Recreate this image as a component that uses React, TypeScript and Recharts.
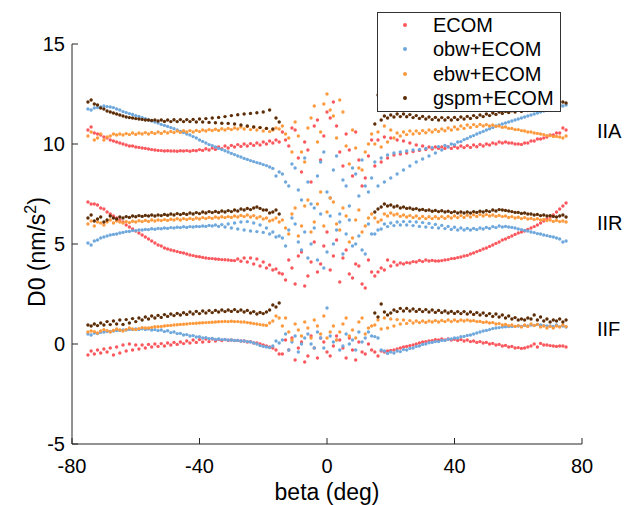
import React from 'react';
import { ScatterChart, Scatter, XAxis, YAxis, ReferenceDot } from 'recharts';

// beta grid of track A: left wing, right wing, middle
const betaA = [-75,-73,-71,-69,-67,-65,-63,-61,-59,-57,-55,-53,-51,-49,-47,-45,-43,-41,-39,-37,-35,-33,-31,-29,-27,-25,-23,-21,-19,-17,-15,
  15,17,19,21,23,25,27,29,31,33,35,37,39,41,43,45,47,49,51,53,55,57,59,61,63,65,67,69,71,73,75,
  -14,-12,-10,-8,-6,-4,-2,0,2,4,6,8,10,12,14];
// beta grid of track B
const betaB = [-74,-72,-70,-68,-66,-64,-62,-60,-58,-56,-54,-52,-50,-48,-46,-44,-42,-40,-38,-36,-34,-32,-30,-28,-26,-24,-22,-20,-18,-16,
  16,18,20,22,24,26,28,30,32,34,36,38,40,42,44,46,48,50,52,54,56,58,60,62,64,66,68,70,72,74,
  -13,-11,-9,-7,-5,-3,-1,1,3,5,7,9,11,13];

// ---------- IIA ----------
const ecomIIA_A = [10.7,10.55,10.45,10.3,10.15,10.05,9.95,9.9,9.83,9.78,9.72,9.68,9.65,9.65,9.64,9.65,9.64,9.66,9.68,9.7,9.73,9.77,9.8,9.85,9.88,9.9,9.93,9.95,10.0,10.05,10.1,
  8.9,9.1,9.3,9.45,9.5,9.55,9.62,9.68,9.72,9.75,9.78,9.78,9.78,9.8,9.82,9.83,9.86,9.9,9.95,10.0,10.05,10.05,10.0,9.98,10.05,10.15,10.25,10.35,10.45,10.55,10.7,
  10.6,9.9,10.7,8.6,9.7,10.9,9.2,11.6,12.1,9.6,10.5,8.4,9.2,8.3,10.2];
const ecomIIA_B = [10.85,10.5,10.35,10.2,10.1,10.0,9.9,9.85,9.8,9.75,9.7,9.67,9.66,9.65,9.66,9.67,9.68,9.72,9.76,9.8,9.85,9.9,9.93,9.97,10.0,10.02,10.05,10.1,10.15,10.2,
  10.2,10.35,10.3,10.2,10.15,10.05,9.95,9.9,9.85,9.85,9.85,9.87,9.88,9.9,9.92,9.95,9.98,10.0,10.05,10.1,10.1,10.05,10.0,10.05,10.15,10.25,10.3,10.45,10.55,10.8,
  10.2,10.8,9.3,10.1,8.1,11.2,10.4,11.3,10.9,8.9,9.7,10.6,7.9,9.4];
const obwIIA_A = [11.75,11.8,11.85,11.87,11.82,11.7,11.57,11.48,11.38,11.27,11.15,11.05,10.93,10.82,10.7,10.57,10.45,10.3,10.13,9.97,9.85,9.72,9.6,9.47,9.35,9.23,9.12,9.03,8.92,8.78,8.6,
  9.1,9.3,9.45,9.55,9.6,9.65,9.7,9.73,9.78,9.82,9.87,9.93,10.0,10.1,10.22,10.36,10.5,10.63,10.76,10.9,11.0,11.1,11.2,11.3,11.4,11.5,11.6,11.7,11.78,11.86,11.95,
  8.5,7.9,8.8,7.2,8.1,6.8,9.1,7.6,8.7,6.5,7.9,8.8,7.4,7.9,8.3];
const obwIIA_B = [11.7,11.82,11.9,11.85,11.75,11.62,11.52,11.42,11.32,11.2,11.1,10.98,10.88,10.76,10.63,10.5,10.37,10.2,10.05,9.92,9.78,9.66,9.53,9.4,9.28,9.17,9.07,8.97,8.85,8.4,
  7.9,8.1,8.3,8.5,8.7,8.9,9.1,9.25,9.4,9.55,9.7,9.85,9.97,10.12,10.28,10.42,10.56,10.7,10.82,10.95,11.05,11.15,11.25,11.35,11.45,11.55,11.65,11.73,11.82,11.9,
  8.1,9.0,7.7,9.3,7.0,8.4,9.6,7.3,9.4,8.2,6.9,8.5,9.2,7.6];
const ebwIIA_A = [10.4,10.2,10.5,10.35,10.5,10.5,10.52,10.55,10.55,10.57,10.58,10.6,10.62,10.63,10.65,10.66,10.67,10.68,10.7,10.72,10.74,10.76,10.78,10.8,10.85,10.87,10.85,10.83,10.78,10.7,10.75,
  10.0,9.85,10.1,10.3,10.4,10.47,10.5,10.53,10.56,10.6,10.63,10.66,10.7,10.74,10.78,10.83,10.87,10.9,10.9,10.88,10.83,10.78,10.72,10.67,10.6,10.55,10.5,10.42,10.37,10.35,10.4,
  10.9,10.3,11.1,9.6,10.8,11.9,10.6,12.5,11.4,12.2,9.9,10.7,8.8,9.6,10.5];
const ebwIIA_B = [10.6,10.3,10.2,10.4,10.45,10.45,10.47,10.48,10.5,10.5,10.52,10.53,10.55,10.57,10.58,10.6,10.6,10.62,10.65,10.67,10.68,10.7,10.72,10.75,10.75,10.72,10.7,10.65,10.62,10.8,
  10.6,10.9,10.7,10.55,10.6,10.65,10.65,10.67,10.7,10.72,10.75,10.8,10.85,10.9,10.95,10.97,10.98,10.97,10.95,10.9,10.85,10.78,10.72,10.65,10.6,10.53,10.47,10.42,10.38,10.3,
  10.5,9.6,10.4,9.1,11.3,10.1,12.0,11.7,10.3,11.6,9.0,9.8,8.7,10.0];
const gspmIIA_A = [12.1,12.0,11.8,11.65,11.55,11.45,11.35,11.3,11.25,11.2,11.18,11.15,11.13,11.12,11.12,11.12,11.12,11.1,11.1,11.08,11.06,11.04,11.03,11.0,10.95,10.9,10.85,10.82,10.78,10.75,11.1,
  11.0,11.2,11.3,11.35,11.37,11.36,11.32,11.28,11.25,11.22,11.2,11.2,11.2,11.22,11.25,11.28,11.32,11.37,11.42,11.48,11.53,11.57,11.6,11.63,11.67,11.72,11.77,11.82,11.87,11.95,12.05];
const gspmIIA_B = [12.2,11.95,11.75,11.6,11.5,11.4,11.32,11.27,11.23,11.2,11.2,11.2,11.2,11.21,11.22,11.22,11.23,11.25,11.27,11.3,11.33,11.37,11.42,11.46,11.5,11.53,11.56,11.6,11.7,11.3,
  12.45,11.4,11.45,11.5,11.5,11.47,11.42,11.38,11.35,11.33,11.32,11.32,11.33,11.35,11.38,11.42,11.45,11.5,11.55,11.6,11.63,11.66,11.7,11.73,11.77,11.8,11.85,11.9,11.97,12.1];

// ---------- IIR ----------
const ecomIIR_A = [7.1,7.0,6.8,6.6,6.4,6.2,5.95,5.75,5.55,5.35,5.15,4.95,4.8,4.7,4.62,4.55,4.45,4.38,4.33,4.28,4.25,4.22,4.2,4.17,4.14,4.1,4.0,3.9,3.8,3.7,3.55,
  3.4,3.8,4.2,4.1,4.05,4.07,4.12,4.18,4.2,4.18,4.15,4.2,4.27,4.32,4.4,4.5,4.62,4.75,4.88,5.03,5.2,5.33,5.48,5.6,5.73,5.87,6.05,6.25,6.45,6.75,7.05,
  3.5,4.2,3.0,4.6,3.4,5.1,4.0,5.6,4.4,3.1,4.7,3.3,3.9,2.8,3.6];
const ecomIIR_B = [7.0,6.95,6.75,6.5,6.3,6.1,5.85,5.65,5.45,5.25,5.05,4.9,4.75,4.66,4.58,4.5,4.42,4.36,4.3,4.27,4.24,4.21,4.18,4.25,4.3,4.3,4.25,4.1,3.95,3.75,
  3.6,3.7,3.9,3.95,4.0,4.05,4.1,4.12,4.15,4.15,4.17,4.22,4.28,4.35,4.43,4.55,4.68,4.8,4.95,5.1,5.25,5.4,5.55,5.65,5.8,5.95,6.15,6.35,6.6,6.9,
  3.2,3.8,4.4,2.9,4.1,3.6,4.9,3.7,5.2,4.3,3.5,4.0,3.0,4.2];
const obwIIR_A = [5.05,5.15,5.3,5.4,5.48,5.55,5.62,5.67,5.7,5.73,5.76,5.78,5.8,5.82,5.84,5.86,5.87,5.88,5.9,5.93,5.95,5.97,6.0,6.05,6.1,6.12,6.05,5.95,5.8,5.6,5.4,
  5.5,5.75,5.87,5.92,5.95,5.95,5.92,5.88,5.85,5.82,5.8,5.77,5.73,5.7,5.7,5.7,5.72,5.75,5.78,5.82,5.85,5.85,5.8,5.72,5.65,5.57,5.5,5.42,5.35,5.25,5.15,
  5.3,5.7,6.0,4.7,4.3,5.8,6.5,4.6,5.0,6.1,5.5,4.9,5.4,4.5,5.5];
const obwIIR_B = [4.95,5.2,5.35,5.45,5.5,5.58,5.63,5.67,5.7,5.72,5.74,5.76,5.78,5.8,5.82,5.83,5.85,5.87,5.88,5.9,5.88,5.85,5.8,5.75,5.7,5.65,5.62,5.58,5.5,5.35,
  5.7,6.0,6.05,6.1,6.12,6.12,6.1,6.07,6.03,5.98,5.93,5.88,5.84,5.8,5.78,5.78,5.8,5.83,5.87,5.9,5.88,5.83,5.75,5.68,5.6,5.52,5.45,5.38,5.3,5.1,
  4.9,6.3,5.1,5.6,5.0,4.2,3.8,6.4,5.7,4.5,6.2,5.0,4.7,6.0];
const ebwIIR_A = [6.0,5.9,6.05,6.1,6.05,6.1,6.12,6.14,6.16,6.18,6.2,6.2,6.22,6.24,6.26,6.27,6.28,6.3,6.32,6.33,6.35,6.36,6.37,6.4,6.43,6.45,6.42,6.37,6.3,6.2,6.1,
  6.3,6.2,6.4,6.45,6.38,6.35,6.32,6.28,6.27,6.27,6.28,6.28,6.3,6.32,6.33,6.35,6.38,6.4,6.4,6.38,6.37,6.33,6.3,6.27,6.25,6.22,6.2,6.17,6.13,6.12,6.1,
  6.2,5.5,6.8,5.9,7.2,6.1,7.6,6.6,7.1,5.7,6.4,5.3,6.7,5.9,6.5];
const ebwIIR_B = [6.15,6.1,5.95,6.2,6.15,6.05,6.07,6.1,6.12,6.13,6.15,6.17,6.18,6.2,6.2,6.22,6.23,6.25,6.27,6.28,6.3,6.32,6.33,6.35,6.37,6.35,6.3,6.25,6.15,6.3,
  6.1,6.5,6.55,6.5,6.45,6.42,6.4,6.38,6.36,6.36,6.37,6.38,6.4,6.42,6.44,6.46,6.47,6.47,6.45,6.43,6.4,6.37,6.34,6.32,6.28,6.26,6.23,6.2,6.18,6.15,
  5.8,6.5,5.4,6.9,5.6,7.0,5.9,7.3,6.0,6.8,5.1,6.2,5.6,6.3];
const gspmIIR_A = [6.3,6.15,6.35,6.2,6.3,6.35,6.37,6.4,6.42,6.43,6.45,6.45,6.48,6.5,6.52,6.53,6.55,6.57,6.6,6.62,6.63,6.65,6.67,6.7,6.75,6.78,6.8,6.78,6.7,6.6,6.5,
  6.6,6.85,6.9,6.85,6.8,6.78,6.74,6.7,6.67,6.64,6.62,6.6,6.57,6.55,6.55,6.55,6.58,6.6,6.62,6.65,6.7,6.65,6.58,6.53,6.5,6.45,6.42,6.4,6.38,6.4,6.35];
const gspmIIR_B = [6.45,6.25,6.1,6.4,6.25,6.3,6.33,6.36,6.38,6.4,6.4,6.42,6.44,6.45,6.47,6.48,6.5,6.52,6.55,6.57,6.58,6.6,6.62,6.65,6.7,6.72,6.85,6.7,6.55,6.7,
  6.75,7.0,6.95,6.9,6.85,6.8,6.77,6.73,6.7,6.68,6.66,6.64,6.62,6.6,6.6,6.62,6.64,6.66,6.7,6.72,6.68,6.62,6.58,6.55,6.5,6.48,6.45,6.42,6.35,6.45];

// ---------- IIF ----------
const ecomIIF_A = [-0.55,-0.5,-0.45,-0.4,-0.55,-0.45,-0.35,-0.3,-0.25,-0.2,-0.15,-0.12,-0.1,-0.05,-0.02,0.02,0.05,0.08,0.1,0.12,0.15,0.17,0.18,0.17,0.15,0.1,0.05,0.0,-0.1,-0.2,-0.5,
  -0.4,-0.35,-0.35,-0.3,-0.2,-0.12,-0.05,0.05,0.12,0.17,0.2,0.2,0.2,0.18,0.15,0.12,0.08,0.05,0.0,-0.05,-0.1,-0.15,-0.2,-0.22,-0.15,0.0,0.03,-0.05,-0.1,-0.1,-0.15,
  -0.5,-0.3,-0.8,0.1,-0.6,-0.2,0.3,-0.4,-0.1,0.2,-0.7,-0.3,0.1,-0.5,-0.3];
const ecomIIF_B = [-0.35,-0.3,-0.25,-0.2,-0.15,-0.05,0.0,-0.05,-0.05,-0.02,0.0,0.02,0.05,0.08,0.1,0.15,0.2,0.22,0.25,0.25,0.23,0.22,0.2,0.18,0.15,0.12,0.05,-0.05,-0.15,-0.3,
  -0.6,-0.4,-0.32,-0.25,-0.15,-0.08,0.0,0.1,0.15,0.22,0.25,0.25,0.24,0.22,0.2,0.15,0.12,0.08,0.03,-0.02,-0.07,-0.12,-0.18,-0.2,-0.1,-0.15,-0.05,-0.08,-0.12,-0.1,
  0.2,0.3,-0.2,-0.9,0.4,-0.7,0.1,-0.6,0.4,-0.2,0.3,-0.8,-0.4,0.0];
const obwIIF_A = [0.5,0.55,0.58,0.62,0.65,0.68,0.7,0.72,0.72,0.72,0.7,0.67,0.62,0.57,0.52,0.45,0.4,0.35,0.3,0.27,0.23,0.22,0.2,0.18,0.15,0.12,0.05,-0.08,-0.15,-0.1,0.05,
  0.37,-0.3,-0.47,-0.45,-0.38,-0.3,-0.2,-0.1,0.0,0.08,0.12,0.18,0.25,0.3,0.38,0.45,0.55,0.65,0.72,0.8,0.85,0.87,0.88,0.88,0.9,0.93,0.95,0.9,0.88,0.87,0.85,
  0.2,-0.3,0.4,0.0,0.5,-0.2,0.3,1.8,0.1,-0.3,0.5,0.2,0.6,0.3,0.4];
const obwIIF_B = [0.45,0.52,0.6,0.63,0.67,0.7,0.73,0.75,0.76,0.75,0.72,0.7,0.66,0.6,0.53,0.47,0.42,0.36,0.32,0.28,0.25,0.23,0.2,0.18,0.15,0.1,0.0,-0.12,-0.18,0.15,
  0.3,-0.35,-0.4,-0.35,-0.28,-0.22,-0.12,-0.02,0.06,0.12,0.18,0.24,0.3,0.36,0.43,0.5,0.6,0.68,0.77,0.82,0.86,0.88,0.9,0.92,0.95,0.98,0.92,0.9,0.95,0.9,
  0.5,0.1,-0.4,0.3,0.0,0.6,-0.2,0.4,0.2,-0.1,0.0,-0.3,0.1,0.6];
const ebwIIF_A = [0.6,0.62,0.65,0.67,0.68,0.7,0.72,0.75,0.77,0.8,0.83,0.86,0.9,0.93,0.96,0.99,1.02,1.04,1.06,1.08,1.1,1.12,1.12,1.12,1.1,1.07,1.02,0.97,0.93,1.15,1.3,
  0.95,0.75,0.8,0.9,1.0,1.03,1.05,1.07,1.08,1.1,1.1,1.12,1.12,1.13,1.15,1.15,1.12,1.08,1.05,1.0,0.95,0.92,0.88,0.85,0.88,0.92,0.85,0.8,0.8,0.85,0.87,
  0.9,0.6,1.0,0.4,0.8,1.2,0.5,0.3,0.9,0.6,1.3,0.7,1.1,0.5,0.9];
const ebwIIF_B = [0.65,0.55,0.72,0.6,0.75,0.65,0.8,0.72,0.82,0.8,0.86,0.88,0.92,0.95,0.98,1.0,1.03,1.05,1.07,1.09,1.11,1.13,1.14,1.12,1.1,1.05,1.0,0.95,1.05,1.4,
  1.2,1.3,1.25,1.22,1.2,1.17,1.15,1.15,1.15,1.17,1.18,1.2,1.2,1.2,1.2,1.17,1.13,1.1,1.07,1.02,0.98,0.95,0.92,0.95,1.0,0.98,0.9,0.88,0.9,0.95,
  1.3,0.2,0.7,1.1,0.3,0.9,1.4,0.6,0.2,1.0,0.4,0.3,1.3,0.8];
const gspmIIF_A = [0.95,1.0,1.05,1.12,1.15,1.2,1.22,1.27,1.3,1.35,1.4,1.43,1.47,1.5,1.53,1.56,1.6,1.63,1.65,1.67,1.68,1.7,1.7,1.72,1.7,1.68,1.62,1.58,1.6,1.95,2.05,
  1.55,2.0,1.45,1.7,1.78,1.78,1.75,1.73,1.72,1.7,1.68,1.65,1.63,1.62,1.62,1.6,1.57,1.55,1.52,1.5,1.45,1.4,1.32,1.25,1.3,1.45,1.35,1.25,1.2,1.25,1.2];
const gspmIIF_B = [0.9,0.92,0.95,0.97,1.0,0.98,1.05,1.12,1.2,1.25,1.3,1.33,1.38,1.42,1.45,1.48,1.5,1.52,1.55,1.57,1.6,1.62,1.63,1.62,1.6,1.55,1.5,1.52,1.7,1.85,
  1.35,1.6,1.55,1.62,1.65,1.65,1.63,1.62,1.6,1.58,1.57,1.55,1.53,1.52,1.5,1.48,1.45,1.42,1.38,1.35,1.3,1.25,1.2,1.2,1.25,1.2,1.15,1.1,1.15,1.1];

const seriesNames = ['ECOM', 'obw+ECOM', 'ebw+ECOM', 'gspm+ECOM'];
const seriesColors = ['#fb585e', '#6fa8dc', '#fd9a3e', '#5c2d06'];
const groupLabels = ['IIA', 'IIR', 'IIF'];
const groupLabelD0 = [10.65, 6.07, 0.75];
const xTicks = [-80, -40, 0, 40, 80];
const yTicks = [-5, 0, 5, 10, 15];

const seriesTracks = [
  [ecomIIA_A, ecomIIA_B, ecomIIR_A, ecomIIR_B, ecomIIF_A, ecomIIF_B],
  [obwIIA_A, obwIIA_B, obwIIR_A, obwIIR_B, obwIIF_A, obwIIF_B],
  [ebwIIA_A, ebwIIA_B, ebwIIR_A, ebwIIR_B, ebwIIF_A, ebwIIF_B],
  [gspmIIA_A, gspmIIA_B, gspmIIR_A, gspmIIR_B, gspmIIF_A, gspmIIF_B],
];

function buildData(tracks: number[][]) {
  const out: { beta: number; d0: number }[] = [];
  tracks.forEach((vals, k) => {
    const betas = k % 2 === 0 ? betaA : betaB;
    vals.forEach((v, i) => out.push({ beta: betas[i], d0: v }));
  });
  return out;
}

const seriesData = seriesTracks.map(buildData);

const FONT = '"Liberation Sans", Arial, Helvetica, sans-serif';
const AXIS = '#262626';

const makeDot = (color: string) => (props: any) =>
  <circle cx={props.cx} cy={props.cy} r={1.7} fill={color} />;

const XLabel = (props: any) => {
  const vb = props.viewBox || {};
  return (
    <text x={vb.x + vb.width / 2} y={vb.y + 56} textAnchor="middle" fontSize={23} fontFamily={FONT} fill="#000">
      beta (deg)
    </text>
  );
};

const YLabel = (props: any) => {
  const vb = props.viewBox || {};
  const cx = vb.x + vb.width - 27;
  const cy = vb.y + vb.height / 2 + 8;
  return (
    <text x={cx} y={cy} transform={`rotate(-90, ${cx}, ${cy})`} textAnchor="middle" fontSize={23} fontFamily={FONT} fill="#000">
      D0 (nm/s<tspan fontSize={16} dy={-9}>2</tspan><tspan dy={9}>)</tspan>
    </text>
  );
};

export default function App() {
  return (
    <div style={{ position: 'absolute', left: 0, top: 0, width: 625, height: 505, background: '#fff', fontFamily: FONT }}>
      <ScatterChart width={625} height={505} margin={{ top: 44, right: 43, bottom: 0, left: 0 }}>
        <XAxis
          dataKey="beta" type="number" domain={[-80, 80]} ticks={xTicks} height={61}
          tickSize={-6} tickMargin={21} allowDataOverflow
          tick={{ fontSize: 20, fill: '#000', fontFamily: FONT }}
          axisLine={{ stroke: AXIS }} tickLine={{ stroke: AXIS }}
          label={<XLabel />}
        />
        <XAxis
          xAxisId="top" orientation="top" type="number" domain={[-80, 80]} ticks={xTicks} height={0}
          tick={false} tickLine={false} axisLine={{ stroke: AXIS }}
        />
        <YAxis
          dataKey="d0" type="number" domain={[-5, 15]} ticks={yTicks} width={72}
          tickSize={-6} tickMargin={13} allowDataOverflow
          tick={{ fontSize: 20, fill: '#000', fontFamily: FONT }}
          axisLine={{ stroke: AXIS }} tickLine={{ stroke: AXIS }}
          label={<YLabel />}
        />
        <YAxis
          yAxisId="right" orientation="right" type="number" domain={[-5, 15]} ticks={yTicks} width={0}
          tick={false} tickSize={-6} axisLine={{ stroke: AXIS }} tickLine={{ stroke: AXIS }}
        />
        {seriesNames.map((name, s) => (
          <Scatter
            key={name} name={name} data={seriesData[s]} fill={seriesColors[s]}
            shape={makeDot(seriesColors[s])} isAnimationActive={false}
          />
        ))}
        {groupLabels.map((g, i) => (
          <ReferenceDot
            key={g} x={80} y={groupLabelD0[i]} r={0} ifOverflow="visible"
            fill="none" stroke="none"
            label={{ value: g, position: 'right', offset: 15, fontSize: 20, fill: '#000', fontFamily: FONT }}
          />
        ))}
      </ScatterChart>
      <div style={{
        position: 'absolute', left: 377, top: 12, width: 184, height: 100, boxSizing: 'border-box',
        border: '1px solid #333', background: '#fff',
      }}>
        {seriesNames.map((name, s) => (
          <div key={name} style={{ position: 'relative', height: 24.3, lineHeight: '24.3px', fontSize: 20, color: '#000', whiteSpace: 'nowrap' }}>
            <span style={{
              position: 'absolute', left: 25, top: 10, width: 4, height: 4, borderRadius: 2, background: seriesColors[s],
            }} />
            <span style={{ position: 'absolute', left: 55 }}>{name}</span>
          </div>
        ))}
      </div>
    </div>
  );
}
